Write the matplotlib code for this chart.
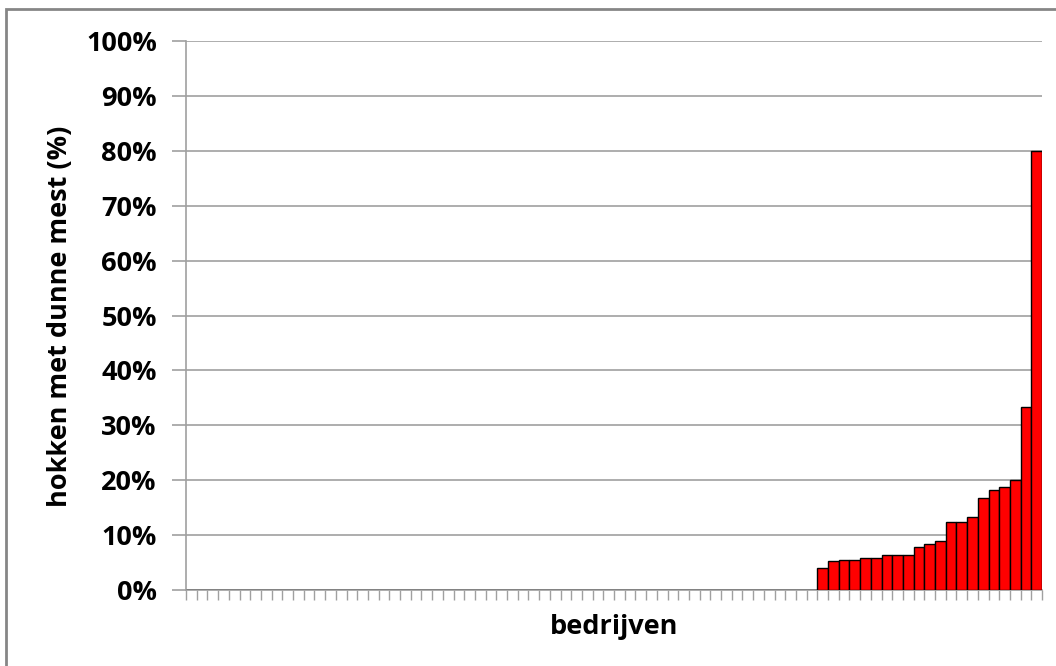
#!/usr/bin/env python3
"""
Purpose: bar chart of share of pens with liquid manure per farm
"""

import matplotlib
matplotlib.use('Agg')
import matplotlib.pyplot as plt
from matplotlib.patches import Rectangle
from matplotlib.ticker import FuncFormatter

# --------------------------------------------------
# data (fraction of pens, 80 farms, sorted)
n_zero = 59
nonzero = [0.040, 0.052, 0.055, 0.054, 0.059, 0.059, 0.063, 0.063, 0.063,
           0.078, 0.084, 0.090, 0.124, 0.124, 0.133, 0.168, 0.182, 0.188,
           0.200, 0.333, 0.800]
values = [0.0] * n_zero + nonzero
y_ticks = [0.0, 0.1, 0.2, 0.3, 0.4, 0.5, 0.6, 0.7, 0.8, 0.9, 1.0]
x_label = 'bedrijven'
y_label = 'hokken met dunne mest (%)'


# --------------------------------------------------
def main():
    """Draw the chart"""
    plt.rcParams['font.family'] = ['Open Sans', 'DejaVu Sans']

    fig = plt.figure(figsize=(10.56, 6.66), dpi=100)
    ax = fig.add_axes([186 / 1056, 1 - 590 / 666,
                       (1042 - 186) / 1056, (590 - 41) / 666])

    # outer frame of the chart area
    fig.patches.append(Rectangle((6 / 1056, -0.05), 1.1, 1 - 9 / 666 + 0.05,
                                 transform=fig.transFigure, fill=False,
                                 edgecolor='#868686', linewidth=2))

    x = list(range(len(values)))
    ax.bar(x, values, width=1.0, color='#FF0000', edgecolor='black',
           linewidth=1.0, zorder=3)

    ax.set_xlim(-0.5, len(values) - 0.5)
    ax.set_ylim(0, 1.0)

    ax.set_yticks(y_ticks)
    ax.yaxis.set_major_formatter(FuncFormatter(lambda v, p: '{:.0f}%'.format(v * 100)))
    ax.set_xticks([i - 0.5 for i in range(len(values) + 1)])
    ax.set_xticklabels([])

    ax.grid(axis='y', color='#A0A0A0', linewidth=1.2, zorder=0)
    ax.tick_params(axis='y', length=10, width=1.2, color='#A0A0A0',
                   labelsize=19.5, pad=11)
    ax.tick_params(axis='x', length=7, width=1, color='#A0A0A0')
    for lbl in ax.get_yticklabels():
        lbl.set_fontweight('bold')

    for side in ['top', 'right']:
        ax.spines[side].set_visible(False)
    for side in ['left', 'bottom']:
        ax.spines[side].set_color('#A0A0A0')
        ax.spines[side].set_linewidth(1.2)

    fig.text(614 / 1056, 1 - 627 / 666, x_label, ha='center', va='center',
             fontsize=19.5, fontweight='bold')
    fig.text(60 / 1056, 1 - 316 / 666, y_label, ha='center', va='center',
             rotation=90, fontsize=19.5, fontweight='bold')

    fig.savefig('out.png', dpi=100)


# --------------------------------------------------
if __name__ == '__main__':
    main()
